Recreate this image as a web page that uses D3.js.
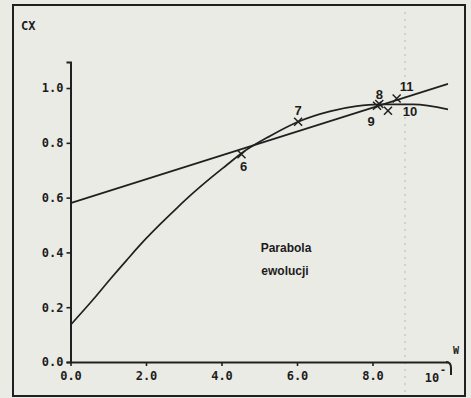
<!DOCTYPE html>
<html>
<head>
<meta charset="utf-8">
<script src="https://cdn.jsdelivr.net/npm/d3@7"></script>
<style>
  html, body { margin: 0; padding: 0; background: #ebebe5; }
  svg { display: block; }
  .tick-label { font-family: "DejaVu Sans Mono", monospace; font-weight: bold; font-size: 12px; fill: #1c1c1c; }
  .pt-label { font-family: "Liberation Sans", Arial, sans-serif; font-weight: bold; font-size: 13px; fill: #1c1c1c; }
  .note { font-family: "Liberation Sans", Arial, sans-serif; font-weight: bold; font-size: 12px; fill: #1c1c1c; }
</style>
</head>
<body>
<svg id="chart" width="471" height="398"></svg>
<script>
// axis ticks
const yTicks = [0, 0.2, 0.4, 0.6, 0.8, 1.0];
const xTicks = [0, 2, 4, 6, 8];

// parabola
const parabolaX = [0, 0.6, 1.05, 1.49, 1.93, 2.37, 2.81, 3.25, 3.7, 4.14, 4.53, 5.3, 6.03, 6.87, 7.58, 8.18, 9.08, 10];
const parabolaY = [0.135, 0.228, 0.302, 0.372, 0.44, 0.502, 0.561, 0.617, 0.67, 0.719, 0.762, 0.826, 0.877, 0.915, 0.934, 0.94, 0.94, 0.922];

// straight line end points
const lineX = [0, 10];
const lineY = [0.58, 1.015];

// numbered measurement points
const pointIds = ["6", "7", "8", "9", "10", "11"];
const pointX = [4.53, 6.03, 8.18, 8.12, 8.41, 8.64];
const pointY = [0.758, 0.877, 0.942, 0.935, 0.917, 0.962];

// label offsets in px from each marker
const LABEL_OFF = { "6": [2, 17], "7": [0, -7], "8": [0, -5], "9": [-6, 20], "10": [22, 5], "11": [10, -7] };

const svg = d3.select("#chart");
const x = d3.scaleLinear().domain([0, 10]).range([70.5, 448]);
const y = d3.scaleLinear().domain([0, 1.095]).range([362, 62]);
const INK = "#202020";

// outer frame
svg.append("rect").attr("x", 13).attr("y", 5).attr("width", 452).attr("height", 391)
    .attr("fill", "none").attr("stroke", INK).attr("stroke-width", 2);

// faint fold line of the scan
svg.append("line").attr("x1", 405).attr("x2", 405).attr("y1", 12).attr("y2", 392)
    .attr("stroke", "#b8b8b2").attr("stroke-width", 1).attr("stroke-dasharray", "2,5");

// y axis
svg.append("g").attr("transform", `translate(${x(0)},0)`)
    .call(d3.axisLeft(y).tickValues(yTicks).tickSize(4).tickPadding(3).tickFormat(d3.format(".1f")))
    .call(g => g.select(".domain").attr("stroke", INK).attr("stroke-width", 2))
    .call(g => g.selectAll(".tick line").attr("stroke", INK).attr("stroke-width", 1.6))
    .call(g => g.selectAll(".tick text").attr("class", "tick-label").attr("font-family", null).attr("font-size", null));

// x axis
svg.append("g").attr("transform", `translate(0,${y(0)})`)
    .call(d3.axisBottom(x).tickValues(xTicks).tickSize(4).tickSizeOuter(0).tickPadding(5).tickFormat(d3.format(".1f")))
    .call(g => g.select(".domain").attr("stroke", INK).attr("stroke-width", 2))
    .call(g => g.selectAll(".tick line").attr("stroke", INK).attr("stroke-width", 1.6))
    .call(g => g.selectAll(".tick text").attr("class", "tick-label").attr("font-family", null).attr("font-size", null));

// hook at the end of the x axis and the "10^-" label
const xe = x(10), y0 = y(0);
svg.append("path")
    .attr("d", `M${xe - 2},${y0} Q${xe + 3},${y0} ${xe + 3},${y0 + 6} L${xe + 3},${y0 + 13}`)
    .attr("fill", "none").attr("stroke", INK).attr("stroke-width", 2);
svg.append("text").attr("class", "tick-label").attr("x", xe - 16).attr("y", y0 + 20)
    .attr("text-anchor", "middle").text("10");
svg.append("text").attr("class", "tick-label").attr("x", xe - 5).attr("y", y0 + 11)
    .attr("text-anchor", "middle").style("font-size", "10px").text("-");
svg.append("text").attr("class", "tick-label").attr("x", xe + 8).attr("y", y0 - 8)
    .attr("text-anchor", "middle").style("font-size", "10px").text("W");

// y axis title
svg.append("text").attr("class", "tick-label").attr("x", 21).attr("y", 30).text("CX");

// curves
const pLine = d3.line().x(d => x(d[0])).y(d => y(d[1])).curve(d3.curveMonotoneX);
svg.append("path").datum(d3.zip(parabolaX, parabolaY)).attr("d", pLine)
    .attr("fill", "none").attr("stroke", INK).attr("stroke-width", 1.7);
svg.append("path").datum(d3.zip(lineX, lineY)).attr("d", d3.line().x(d => x(d[0])).y(d => y(d[1])))
    .attr("fill", "none").attr("stroke", INK).attr("stroke-width", 1.7);

// x markers with numbers
const pts = pointIds.map((id, i) => ({ id, x: pointX[i], y: pointY[i] }));
const mk = svg.append("g").selectAll("g").data(pts).join("g")
    .attr("transform", d => `translate(${x(d.x)},${y(d.y)})`);
mk.append("path").attr("d", "M-4,-4L4,4M-4,4L4,-4")
    .attr("stroke", INK).attr("stroke-width", 1.5);
mk.append("text").attr("class", "pt-label").attr("text-anchor", "middle")
    .attr("x", d => LABEL_OFF[d.id][0]).attr("y", d => LABEL_OFF[d.id][1]).text(d => d.id);

// annotation
svg.append("text").attr("class", "note").attr("x", 286).attr("y", 252).attr("text-anchor", "middle").text("Parabola");
svg.append("text").attr("class", "note").attr("x", 285).attr("y", 275).attr("text-anchor", "middle").text("ewolucji");
</script>
</body>
</html>
